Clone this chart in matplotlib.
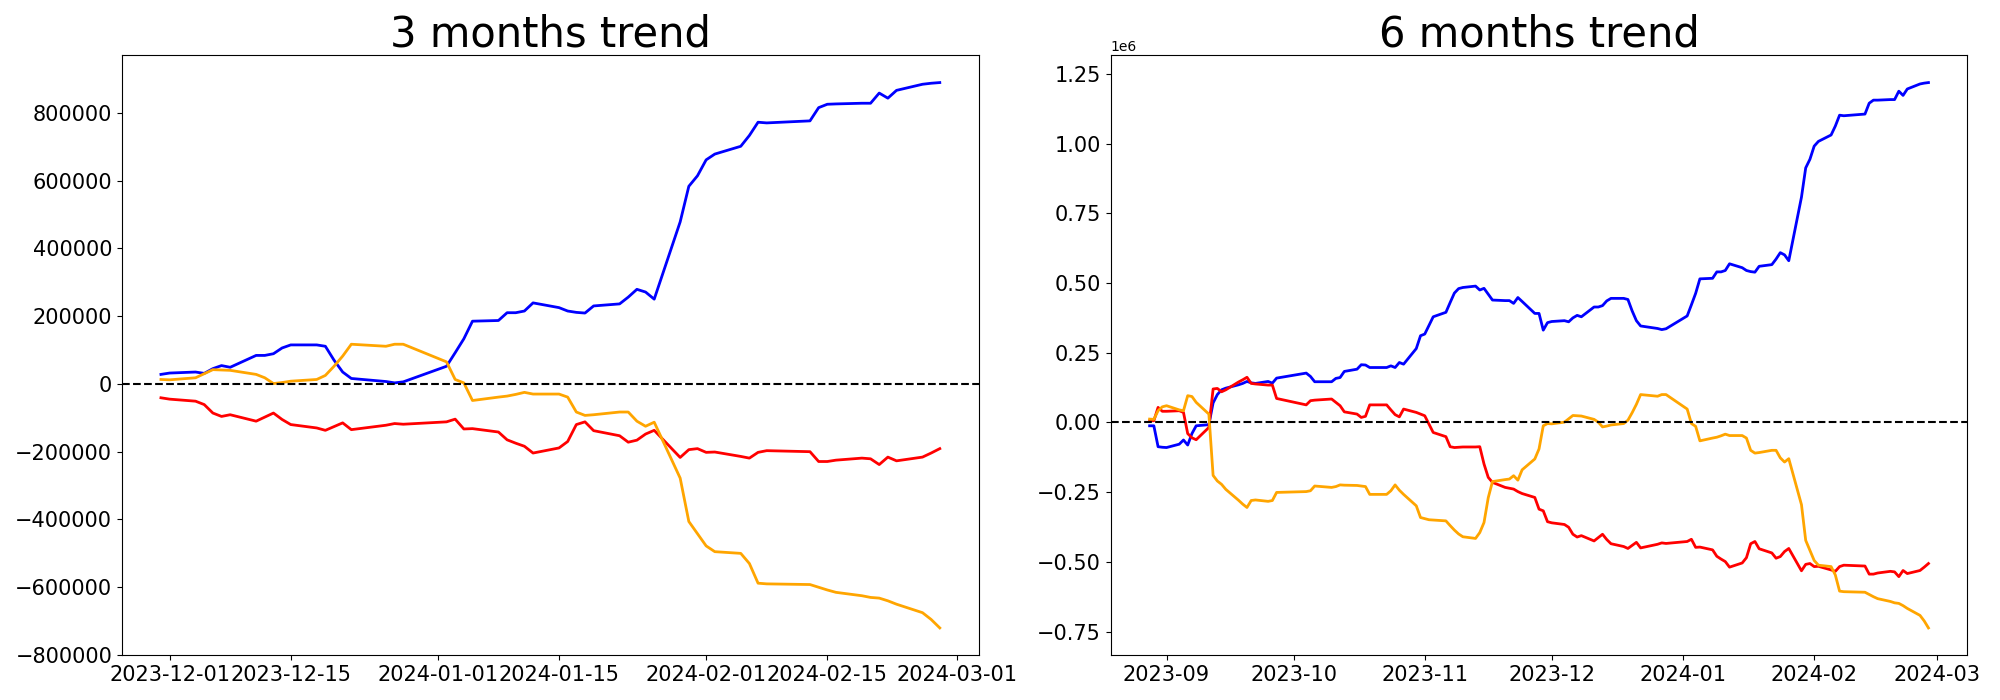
import numpy as np
import pandas as pd
import matplotlib
matplotlib.use("Agg")
import matplotlib.pyplot as plt

# cumulative net values, in thousands
dates_3m = [
    "2023-11-30",
    "2023-12-01", "2023-12-04", "2023-12-05", "2023-12-06", "2023-12-07", "2023-12-08",
    "2023-12-11", "2023-12-12", "2023-12-13", "2023-12-14", "2023-12-15",
    "2023-12-18", "2023-12-19", "2023-12-20", "2023-12-21", "2023-12-22",
    "2023-12-26", "2023-12-27", "2023-12-28",
    "2024-01-02", "2024-01-03", "2024-01-04", "2024-01-05",
    "2024-01-08", "2024-01-09", "2024-01-10", "2024-01-11", "2024-01-12",
    "2024-01-15", "2024-01-16", "2024-01-17", "2024-01-18", "2024-01-19",
    "2024-01-22", "2024-01-23", "2024-01-24", "2024-01-25", "2024-01-26",
    "2024-01-29", "2024-01-30", "2024-01-31",
    "2024-02-01", "2024-02-02", "2024-02-05", "2024-02-06", "2024-02-07", "2024-02-08",
    "2024-02-13", "2024-02-14", "2024-02-15", "2024-02-16",
    "2024-02-19", "2024-02-20", "2024-02-21", "2024-02-22", "2024-02-23",
    "2024-02-26", "2024-02-27", "2024-02-28",
]
blue_3m = [
    28,
    32, 35, 31, 45, 54, 49, 84, 84, 89, 106, 115, 115, 111, 70, 35, 16, 7, 3, 6,
    52, 92, 133, 185, 187, 210, 210, 215, 239, 225, 215, 211, 209, 230, 236, 256,
    279, 271, 250, 478, 583, 614,
    661, 678, 701, 733, 772, 770, 776, 815, 825, 826, 828, 828, 858, 843, 866,
    884, 887, 889,
]
red_3m = [
    -41,
    -45, -51, -61, -86, -96, -91, -110, -98, -86, -105, -120, -130, -137, -126,
    -115, -135, -122, -117, -119,
    -112, -104, -133, -132, -142, -165, -175, -184, -204, -189, -170, -120, -112,
    -138, -153, -172, -166, -148, -137, -217, -194, -191,
    -202, -201, -214, -219, -202, -197, -200, -229, -229, -225, -219, -221, -238,
    -216, -227, -216, -204, -191,
]
orange_3m = [
    13,
    12, 18, 30, 42, 41, 40, 28, 18, 1, 4, 8, 13, 25, 52, 82, 117, 111, 117, 117,
    65, 13, 3, -49, -39, -36, -31, -25, -30, -30, -39, -83, -93, -91, -83, -83,
    -110, -125, -113, -278, -406, -442,
    -478, -495, -500, -530, -588, -590, -592, -600, -608, -615, -625, -630, -632,
    -640, -650, -675, -695, -720,
]

dates_6m = [
    "2023-08-28", "2023-08-29", "2023-08-30", "2023-08-31",
    "2023-09-01", "2023-09-04", "2023-09-05", "2023-09-06", "2023-09-07", "2023-09-08",
    "2023-09-11", "2023-09-12", "2023-09-13", "2023-09-14", "2023-09-15",
    "2023-09-18", "2023-09-19", "2023-09-20", "2023-09-21", "2023-09-22",
    "2023-09-25", "2023-09-26", "2023-09-27",
    "2023-10-04", "2023-10-05", "2023-10-06", "2023-10-10", "2023-10-11",
    "2023-10-12", "2023-10-13", "2023-10-16", "2023-10-17", "2023-10-18",
    "2023-10-19", "2023-10-20", "2023-10-23", "2023-10-24", "2023-10-25",
    "2023-10-26", "2023-10-27", "2023-10-30", "2023-10-31",
    "2023-11-01", "2023-11-02", "2023-11-03", "2023-11-06", "2023-11-07",
    "2023-11-08", "2023-11-09", "2023-11-10", "2023-11-13", "2023-11-14",
    "2023-11-15", "2023-11-16", "2023-11-17", "2023-11-20", "2023-11-21",
    "2023-11-22", "2023-11-23", "2023-11-24", "2023-11-27", "2023-11-28",
    "2023-11-29", "2023-11-30",
] + dates_3m[1:]
blue_6m = [
    -12, -12, -87, -89,
    -90, -78, -63, -81, -40, -12, -8, 70, 100, 117, 123, 135, 140, 147, 142, 140,
    147, 141, 159,
    177, 165, 146, 146, 158, 161, 183, 191, 207, 206, 197, 197, 197, 203, 197,
    215, 209, 265, 311,
    317, 348, 379, 395, 430, 464, 480, 484, 489, 475, 481, 460, 439, 437, 437,
    427, 448, 434, 391, 391, 331, 358,
    362, 365, 361, 375, 384, 379, 414, 414, 419, 436, 445, 445, 441, 400, 365,
    346, 337, 333, 336,
    382, 422, 463, 515, 517, 540, 540, 545, 569, 555, 545, 541, 539, 560, 566,
    586, 609, 601, 580, 808, 913, 944,
    991, 1008, 1031, 1063, 1102, 1100, 1106, 1145, 1156, 1156, 1158, 1158, 1188,
    1173, 1196, 1214, 1217, 1219,
]
red_6m = [
    6, 6, 54, 40,
    40, 42, 36, -40, -55, -62, -18, 120, 122, 110, 117, 145, 153, 162, 140, 138,
    134, 134, 86,
    63, 78, 80, 84, 72, 60, 38, 30, 18, 22, 63, 63, 63, 45, 28, 20, 48, 36, 30,
    24, -6, -36, -51, -87, -90, -89, -88, -88, -87, -149, -197, -215, -233, -236,
    -239, -248, -255, -269, -311, -317, -356,
    -360, -366, -376, -401, -411, -406, -425, -413, -401, -420, -435, -445, -452,
    -441, -430, -450, -437, -432, -434,
    -427, -419, -448, -447, -457, -480, -490, -499, -519, -504, -485, -435, -427,
    -453, -468, -487, -481, -463, -452, -532, -509, -506,
    -517, -516, -529, -534, -517, -512, -515, -544, -544, -540, -534, -536, -553,
    -531, -542, -531, -519, -506,
]
orange_6m = [
    12, 11, 42, 56,
    60, 45, 42, 96, 93, 72, 30, -190, -210, -222, -240, -279, -293, -305, -280,
    -278, -283, -280, -251,
    -248, -245, -228, -233, -230, -224, -225, -226, -228, -230, -258, -258, -258,
    -245, -224, -243, -258, -299, -341,
    -345, -349, -350, -353, -370, -386, -400, -410, -416, -395, -359, -270, -212,
    -205, -203, -191, -207, -170, -131, -95, -12, -4,
    -5, 1, 13, 25, 24, 23, 11, 1, -16, -13, -9, -4, 8, 35, 65, 100, 94, 100, 100,
    48, -4, -14, -66, -56, -53, -48, -42, -47, -47, -56, -100, -110, -108, -100,
    -100, -127, -142, -130, -295, -423, -459,
    -495, -512, -517, -547, -605, -607, -609, -617, -625, -632, -642, -647, -649,
    -657, -667, -692, -712, -737,
]

panels = [
    ("3 months trend", dates_3m, blue_3m, red_3m, orange_3m),
    ("6 months trend", dates_6m, blue_6m, red_6m, orange_6m),
]

fig, axes = plt.subplots(1, 2, figsize=(20, 7), dpi=100)
fig.subplots_adjust(left=0.061, right=0.9837, bottom=0.064, top=0.921, wspace=0.154)

for ax, (title, dates, blue, red, orange) in zip(axes, panels):
    x = pd.to_datetime(dates)
    ax.plot(x, np.array(blue) * 1000, color="blue", linewidth=2)
    ax.plot(x, np.array(red) * 1000, color="red", linewidth=2)
    ax.plot(x, np.array(orange) * 1000, color="orange", linewidth=2)
    ax.axhline(0, color="black", linestyle="--", linewidth=1.5)
    ax.set_title(title, fontsize=30)
    ax.tick_params(axis="both", labelsize=15)

plt.savefig("out.png", dpi=100)
